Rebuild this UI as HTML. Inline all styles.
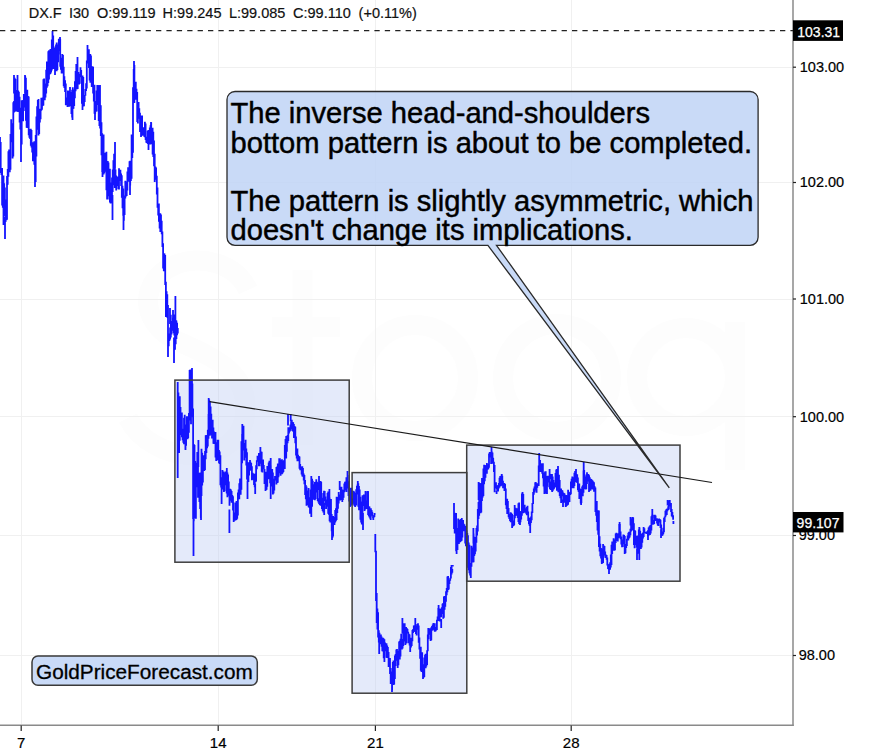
<!DOCTYPE html>
<html><head><meta charset="utf-8"><style>
html,body{margin:0;padding:0;background:#fff;}
body{width:881px;height:756px;overflow:hidden;}
svg{display:block;font-family:"Liberation Sans",sans-serif;}
</style></head><body>
<svg width="881" height="756" viewBox="0 0 881 756">
<rect width="881" height="756" fill="#fff"/>
<g fill="none" stroke="#fdfdfd" stroke-width="20">
<path d="M248 290C235 262 200 255 175 265C140 280 138 320 175 340C215 358 250 372 245 415C240 455 190 465 155 445C140 437 133 428 128 418"/>
<line x1="302.5" y1="270" x2="302.5" y2="445"/>
<line x1="272" y1="327" x2="340" y2="327"/>
<circle cx="415" cy="378" r="53"/>
<circle cx="557" cy="378" r="54"/>
<circle cx="686" cy="377" r="49"/>
<line x1="735" y1="322" x2="735" y2="470"/>
</g>
<g stroke="#f0f0f0" stroke-width="1"><line x1="0" y1="67.5" x2="793" y2="67.5"/><line x1="0" y1="182.5" x2="793" y2="182.5"/><line x1="0" y1="299.5" x2="793" y2="299.5"/><line x1="0" y1="416.5" x2="793" y2="416.5"/><line x1="0" y1="535.5" x2="793" y2="535.5"/><line x1="0" y1="655.5" x2="793" y2="655.5"/><line x1="21.5" y1="0" x2="21.5" y2="724"/><line x1="218.5" y1="0" x2="218.5" y2="724"/><line x1="375.5" y1="0" x2="375.5" y2="724"/><line x1="571.5" y1="0" x2="571.5" y2="724"/></g>

<g fill="rgba(190,206,242,0.42)" stroke="none">
<rect x="174.9" y="380.1" width="174.3" height="182.1"/>
<rect x="352.1" y="472.6" width="114.7" height="220.6"/>
<rect x="466.7" y="445.1" width="213.3" height="136.1"/>
</g>
<path d="M0.00 137.9V150.0M0.70 141.9V172.9M1.40 168.5V175.0M2.10 167.9V205.6M2.80 183.4V207.7M3.50 175.6V224.9M4.20 183.3V215.9M4.90 187.4V207.2M5.60 199.6V222.1M6.30 209.9V220.2M7.00 175.9V219.8M7.70 169.1V184.8M8.40 151.3V176.7M9.10 149.6V163.5M9.80 157.0V172.2M10.50 133.9V169.7M11.20 119.3V142.3M11.90 123.3V141.7M12.60 129.1V158.4M13.30 102.2V156.5M14.00 100.9V112.5M14.70 77.7V111.7M15.40 78.9V107.0M16.10 99.1V111.4M16.80 90.1V106.9M17.50 94.9V111.7M18.20 90.5V112.0M18.90 91.8V111.3M19.60 96.8V122.6M20.30 118.1V129.4M21.00 107.7V160.3M21.70 100.3V144.4M22.40 100.3V120.6M23.10 99.9V121.3M23.80 93.9V103.8M24.50 99.2V107.5M25.20 75.9V111.1M25.90 77.8V120.7M26.60 102.4V127.7M27.30 89.8V128.0M28.00 95.9V113.5M28.70 96.6V135.3M29.40 130.0V137.8M30.10 129.0V138.9M30.80 128.7V145.7M31.50 130.1V147.4M32.20 142.5V152.6M32.90 142.2V161.2M33.60 144.8V151.7M34.30 141.3V164.8M35.00 161.0V186.7M35.70 135.1V181.9M36.40 116.6V156.4M37.10 106.2V129.8M37.80 99.9V116.5M38.50 99.1V135.5M39.20 108.8V134.1M39.90 109.8V122.6M40.60 108.7V119.2M41.30 97.8V110.7M42.00 98.5V109.7M42.70 97.6V106.1M43.40 79.2V105.6M44.10 78.4V95.0M44.80 89.2V100.3M45.50 83.5V97.4M46.20 69.7V93.5M46.90 61.4V87.8M47.60 73.5V86.2M48.30 51.2V82.9M49.00 50.2V79.5M49.70 51.4V74.4M50.40 49.1V73.9M51.10 62.2V72.6M51.80 39.5V70.5M52.50 33.9V43.8M53.20 35.4V69.1M53.90 48.1V67.6M54.60 50.1V68.4M55.30 46.5V70.7M56.00 44.5V55.5M56.70 42.5V71.3M57.40 53.6V69.9M58.10 44.5V62.2M58.80 38.7V50.8M59.50 40.1V49.9M60.20 38.7V66.7M60.90 57.8V69.7M61.60 63.5V73.6M62.30 53.9V70.7M63.00 54.9V73.6M63.70 66.7V86.2M64.40 76.2V87.9M65.10 80.2V92.0M65.80 83.6V105.3M66.50 97.5V105.3M67.20 98.6V103.8M67.90 90.6V105.2M68.60 90.8V106.7M69.30 99.1V106.7M70.00 94.1V105.9M70.70 92.1V105.8M71.40 96.4V114.0M72.10 89.8V117.6M72.80 87.3V108.9M73.50 100.3V108.8M74.20 89.4V106.1M74.90 81.2V98.2M75.60 71.0V91.2M76.30 64.1V81.2M77.00 71.6V89.3M77.70 76.8V89.0M78.40 71.9V81.1M79.10 74.8V84.5M79.80 73.8V76.2M80.50 67.3V77.2M81.20 70.1V83.7M81.90 76.5V103.7M82.60 75.5V100.8M83.30 76.9V106.5M84.00 97.8V106.3M84.70 94.9V101.9M85.40 89.0V95.7M86.10 83.2V91.0M86.80 60.6V88.6M87.50 52.2V63.5M88.20 50.3V58.6M88.90 49.2V68.1M89.60 62.8V80.6M90.30 53.9V82.7M91.00 55.5V79.9M91.70 67.5V87.1M92.40 66.3V86.0M93.10 66.7V93.5M93.80 86.5V101.6M94.50 84.7V113.7M95.20 104.4V113.7M95.90 105.7V111.8M96.60 90.4V111.4M97.30 85.1V104.9M98.00 85.1V93.6M98.70 85.4V121.1M99.40 118.3V125.9M100.10 108.9V128.6M100.80 105.3V136.1M101.50 122.2V155.2M102.20 133.2V171.9M102.90 137.8V162.4M103.60 134.4V174.5M104.30 169.6V173.3M105.00 152.7V171.7M105.70 156.5V163.0M106.40 151.8V190.2M107.10 178.8V199.4M107.80 161.0V193.2M108.50 162.5V196.2M109.20 169.2V199.5M109.90 168.7V202.4M110.60 182.4V203.6M111.30 185.9V203.1M112.00 177.5V199.4M112.70 169.4V192.0M113.40 160.2V185.3M114.10 153.8V176.6M114.80 158.8V188.0M115.50 169.4V188.1M116.20 175.5V190.4M116.90 176.7V184.0M117.60 176.6V186.1M118.30 176.4V189.3M119.00 168.3V189.6M119.70 169.7V172.6M120.40 169.8V180.9M121.10 173.4V186.0M121.80 175.3V197.7M122.50 185.8V208.2M123.20 188.6V215.7M123.90 195.5V220.7M124.60 195.8V215.0M125.30 180.8V198.6M126.00 181.6V196.5M126.70 189.1V196.1M127.40 171.6V190.5M128.10 167.2V180.1M128.80 169.2V181.8M129.50 161.3V181.0M130.20 160.8V185.4M130.90 165.9V181.0M131.60 134.6V178.7M132.30 134.5V158.0M133.00 87.3V152.7M133.70 69.1V98.4M134.40 65.1V103.0M135.10 82.2V97.2M135.80 81.7V99.8M136.50 88.7V98.2M137.20 91.9V122.1M137.90 106.6V123.5M138.60 102.1V118.0M139.30 108.3V118.8M140.00 112.8V131.9M140.70 125.7V131.5M141.40 115.6V130.1M142.10 115.6V135.8M142.80 128.8V135.6M143.50 127.2V134.7M144.20 131.5V136.7M144.90 121.8V137.2M145.60 123.5V139.9M146.30 136.7V142.7M147.00 139.1V142.9M147.70 130.8V144.1M148.40 130.1V137.2M149.10 130.6V141.2M149.80 127.4V144.4M150.50 125.2V144.4M151.20 122.5V144.1M151.90 137.7V143.8M152.60 127.7V154.6M153.30 131.8V157.1M154.00 140.5V166.3M154.70 153.7V181.9M155.40 166.5V179.4M156.10 167.5V179.8M156.80 175.7V194.5M157.50 187.6V207.7M158.20 203.4V215.5M158.90 203.4V221.7M159.60 214.3V228.4M160.30 213.3V231.9M161.00 214.5V225.7M161.70 220.7V234.3M162.40 231.5V247.0M163.10 243.3V268.6M163.80 253.3V271.3M164.50 253.6V262.0M165.20 255.1V284.9M165.90 281.7V317.1M166.60 291.3V311.0M167.30 294.2V317.8M168.00 310.2V342.1M168.70 333.5V346.2M169.40 339.0V340.9M170.10 327.4V339.6M170.80 314.7V337.6M171.50 321.1V334.4M172.20 322.1V330.8M172.90 317.7V330.5M173.60 317.3V333.3M174.30 314.6V335.5M175.00 328.4V349.8M175.70 319.9V344.3M176.40 320.5V338.9M177.10 322.7V335.2M177.80 328.1V333.4M177.70 392.4V431.2M178.40 392.4V449.4M179.10 426.6V452.9M179.80 396.2V440.8M180.50 406.9V432.4M181.20 421.5V435.0M181.90 412.6V437.2M182.60 428.8V440.2M183.30 430.8V442.7M184.00 417.7V444.3M184.70 414.7V443.0M185.40 433.0V449.4M186.10 424.5V445.7M186.80 416.3V430.6M187.50 416.3V439.3M188.20 432.6V438.3M188.90 413.0V432.8M189.60 370.1V416.8M190.30 369.6V420.5M191.00 401.4V424.3M191.70 372.5V417.3M192.40 383.6V411.0M193.10 408.5V518.9M193.80 444.0V521.2M194.50 444.9V477.5M195.20 461.0V518.2M195.90 471.0V518.7M196.60 462.8V487.3M197.30 452.1V477.1M198.00 452.7V497.7M198.70 490.2V496.2M199.40 473.0V502.0M200.10 472.4V509.1M200.80 488.6V517.7M201.50 448.8V496.1M202.20 452.7V485.6M202.90 457.2V482.4M203.60 455.3V460.3M204.30 457.8V470.9M205.00 451.1V470.0M205.70 435.2V459.2M206.40 434.9V452.9M207.10 439.4V448.3M207.80 429.8V446.4M208.50 414.0V438.8M209.20 399.5V422.1M209.90 401.1V435.8M210.60 406.6V431.4M211.30 413.7V434.7M212.00 419.8V438.6M212.70 419.7V438.5M213.40 427.4V443.8M214.10 431.4V444.0M214.80 433.1V441.8M215.50 432.1V457.5M216.20 442.2V461.1M216.90 447.1V460.6M217.60 439.7V460.0M218.30 439.7V460.1M219.00 450.1V463.2M219.70 451.5V463.9M220.40 455.3V485.2M221.10 478.3V487.5M221.80 477.3V483.1M222.50 470.0V486.5M223.20 471.4V489.4M223.90 484.3V492.0M224.60 472.5V491.3M225.30 471.5V482.4M226.00 475.7V485.2M226.70 482.0V493.6M227.40 472.5V497.3M228.10 474.4V483.4M228.80 481.5V495.8M229.50 489.2V505.8M230.20 488.8V500.8M230.90 489.4V499.7M231.60 491.0V502.8M232.30 494.9V500.7M233.00 496.3V510.4M233.70 502.4V522.0M234.40 512.4V520.8M235.10 513.8V520.5M235.80 502.6V520.2M236.50 500.9V519.9M237.20 510.9V518.8M237.90 492.5V515.5M238.60 489.6V496.2M239.30 483.2V499.2M240.00 478.6V493.2M240.70 479.0V494.8M241.40 441.3V489.8M242.10 434.1V463.3M242.80 425.8V448.5M243.50 425.8V450.5M244.20 442.9V460.4M244.90 443.6V453.4M245.60 439.8V457.8M246.30 448.4V465.4M247.00 452.3V479.5M247.70 466.0V481.0M248.40 462.2V481.9M249.10 465.4V475.6M249.80 461.9V468.7M250.50 461.8V465.2M251.20 463.1V470.8M251.90 466.3V480.2M252.60 472.7V478.4M253.30 473.5V479.8M254.00 474.1V484.9M254.70 479.6V487.2M255.40 473.4V482.3M256.10 465.3V481.6M256.80 460.3V469.3M257.50 455.7V461.8M258.20 457.8V461.0M258.90 453.1V466.2M259.60 460.0V466.3M260.30 450.0V463.7M261.00 451.5V459.1M261.70 451.8V471.7M262.40 459.6V472.4M263.10 459.6V466.9M263.80 464.9V469.2M264.50 469.0V483.9M265.20 472.1V481.6M265.90 471.7V489.9M266.60 483.9V489.7M267.30 466.1V486.8M268.00 469.1V473.1M268.70 462.4V479.2M269.40 460.7V471.5M270.10 464.8V483.3M270.80 465.5V485.8M271.50 469.5V486.4M272.20 468.9V483.9M272.90 472.4V494.5M273.60 489.9V493.6M274.30 478.7V490.4M275.00 475.9V480.4M275.70 477.7V480.3M276.40 467.0V484.6M277.10 466.6V483.1M277.80 463.4V482.7M278.50 468.0V477.3M279.20 458.3V473.3M279.90 458.2V470.1M280.60 462.9V475.8M281.30 460.0V469.5M282.00 459.3V474.3M282.70 468.6V473.3M283.40 460.9V471.9M284.10 459.9V466.1M284.80 444.9V469.1M285.50 439.1V457.4M286.20 436.1V458.5M286.90 438.6V451.8M287.60 434.9V443.2M288.30 427.3V441.0M289.00 427.3V433.5M289.70 428.0V431.7M290.40 424.4V430.8M291.10 421.7V429.2M291.80 419.7V424.6M292.50 421.9V430.9M293.20 422.3V431.7M293.90 424.0V437.9M294.60 426.1V437.5M295.30 426.8V443.3M296.00 436.6V455.5M296.70 448.7V458.5M297.40 448.4V461.2M298.10 454.8V460.9M298.80 456.1V461.3M299.50 456.4V468.7M300.20 463.9V470.3M300.90 466.8V469.9M301.60 466.6V474.5M302.30 466.3V476.5M303.00 468.0V476.7M303.70 473.5V480.6M304.40 475.1V484.2M305.10 480.0V495.1M305.80 485.0V499.2M306.50 486.5V505.7M307.20 501.6V505.0M307.90 490.6V503.6M308.60 487.9V507.3M309.30 497.2V507.7M310.00 499.2V513.7M310.70 489.4V510.9M311.40 492.9V502.3M312.10 478.7V506.8M312.80 480.7V497.4M313.50 487.6V499.7M314.20 484.2V499.0M314.90 482.1V500.2M315.60 481.7V498.9M316.30 479.2V486.6M317.00 481.8V492.4M317.70 482.6V501.1M318.40 498.3V502.5M319.10 500.3V503.9M319.80 489.2V505.2M320.50 480.9V495.5M321.20 481.7V506.0M321.90 497.8V509.1M322.60 498.0V511.0M323.30 492.9V512.6M324.00 490.8V496.6M324.70 491.1V501.1M325.40 496.5V505.0M326.10 502.5V508.9M326.80 499.4V506.7M327.50 493.0V501.3M328.20 491.6V513.7M328.90 496.9V514.7M329.60 497.6V521.2M330.30 499.0V522.5M331.00 499.0V519.0M331.70 514.1V531.3M332.40 526.3V538.1M333.10 515.9V536.5M333.80 516.9V523.7M334.50 518.4V525.1M335.20 510.0V522.5M335.90 508.3V521.3M336.60 496.7V520.1M337.30 497.1V512.9M338.00 502.1V508.8M338.70 492.0V503.6M339.40 494.4V500.5M340.10 494.4V500.4M340.80 488.3V500.0M341.50 486.8V495.8M342.20 489.6V496.8M342.90 492.9V499.9M343.60 489.7V497.8M344.30 483.4V492.3M345.00 481.7V485.1M345.70 481.6V490.4M346.40 477.2V492.0M347.10 478.8V484.4M347.80 474.9V488.4M348.50 481.2V495.9M349.20 489.6V501.6M349.90 499.0V505.2M350.60 487.7V506.0M351.30 487.8V505.2M352.00 499.5V504.4M352.70 498.6V503.8M353.40 490.8V503.2M354.10 491.5V505.4M354.80 493.5V506.2M355.50 492.8V505.1M356.20 489.3V505.5M356.90 485.8V494.6M357.60 484.3V490.9M358.30 483.2V506.8M359.00 485.9V510.2M359.70 489.6V507.1M360.40 496.8V519.7M361.10 509.4V522.4M361.80 501.5V524.4M362.50 495.3V513.0M363.20 495.9V506.0M363.90 494.5V504.4M364.60 497.7V511.0M365.30 499.9V509.4M366.00 502.8V508.6M366.70 500.4V509.1M367.40 491.3V508.8M368.10 491.8V514.9M368.80 506.3V516.2M369.50 506.4V517.5M370.20 509.2V518.8M370.90 508.3V516.8M371.60 510.1V515.7M372.30 511.8V515.6M373.00 515.3V518.3M373.70 516.6V517.8M374.40 515.1V517.0M375.30 541.4V552.3M376.00 550.8V600.9M376.70 592.9V623.1M377.40 608.6V629.6M378.10 612.2V637.4M378.80 630.2V642.4M379.50 632.7V639.7M380.20 635.3V644.0M380.90 634.6V644.3M381.60 636.6V646.7M382.30 637.8V651.2M383.00 637.7V651.5M383.70 638.5V658.2M384.40 639.3V657.4M385.10 642.6V651.2M385.80 643.3V648.6M386.50 643.3V657.7M387.20 645.5V658.1M387.90 647.1V654.9M388.60 652.0V666.9M389.30 661.0V667.0M390.00 658.1V673.9M390.70 668.1V683.9M391.40 673.9V683.8M392.10 671.4V689.9M392.80 662.1V684.0M393.50 660.5V685.0M394.20 667.8V684.4M394.90 655.4V678.9M395.60 654.0V666.0M396.30 649.5V660.8M397.00 649.0V659.1M397.70 650.8V668.1M398.40 652.4V665.2M399.10 641.6V657.2M399.80 640.7V659.5M400.50 638.8V656.6M401.20 633.7V644.2M401.90 640.3V649.5M402.60 638.9V648.5M403.30 624.6V646.1M404.00 623.2V632.2M404.70 623.2V641.5M405.40 634.7V644.9M406.10 627.1V643.6M406.80 628.1V630.0M407.50 628.9V633.6M408.20 631.7V643.2M408.90 633.8V641.4M409.60 634.4V645.6M410.30 639.2V644.1M411.00 637.7V647.5M411.70 639.4V646.1M412.40 630.0V641.2M413.10 629.0V633.0M413.80 625.5V631.9M414.50 625.3V631.7M415.20 628.3V629.5M415.90 625.6V634.0M416.60 625.6V635.6M417.30 624.0V629.7M418.00 623.3V626.2M418.70 625.4V642.7M419.40 637.4V649.4M420.10 647.9V658.7M420.80 646.7V670.8M421.50 652.3V672.1M422.20 652.3V669.6M422.90 664.2V673.1M423.60 668.4V677.7M424.30 657.5V677.0M425.00 654.8V664.7M425.70 653.7V668.3M426.40 659.4V666.4M427.10 650.3V665.1M427.80 634.5V651.3M428.50 633.2V639.2M429.20 628.3V634.7M429.90 628.3V633.4M430.60 628.8V640.9M431.30 627.3V640.3M432.00 626.0V630.8M432.70 624.6V629.8M433.40 625.0V628.6M434.10 623.4V630.4M434.80 623.3V631.8M435.50 627.6V631.5M436.20 627.1V630.5M436.90 619.8V629.9M437.60 616.4V621.0M438.30 607.9V621.1M439.00 609.9V619.7M439.70 608.6V621.5M440.40 608.8V614.4M441.10 610.1V617.2M441.80 607.3V613.9M442.50 603.8V609.9M443.20 603.0V618.7M443.90 596.6V617.7M444.60 596.1V609.8M445.30 601.1V606.7M446.00 591.2V601.8M446.70 587.9V595.2M447.40 576.4V592.3M448.10 576.0V590.0M448.80 579.4V589.4M449.50 579.7V584.1M450.20 577.7V580.8M450.90 567.0V578.5M451.60 566.9V574.4M452.30 569.1V572.7M454.00 521.5V529.1M454.70 512.7V533.4M455.40 513.0V519.8M456.10 513.0V551.2M456.80 532.9V543.9M457.50 528.0V549.9M458.20 518.4V540.7M458.90 519.7V544.0M459.60 539.6V542.4M460.30 519.5V541.9M461.00 518.9V541.3M461.70 534.5V540.8M462.40 519.9V537.5M463.10 519.9V530.7M463.80 523.7V531.3M464.50 524.4V526.7M465.20 525.9V543.5M465.90 528.8V546.3M466.60 530.4V545.2M467.30 533.0V545.4M468.00 535.3V567.7M468.70 542.6V570.3M469.40 544.7V573.3M470.10 564.0V575.5M470.80 562.9V569.3M471.50 545.7V566.8M472.20 547.6V559.5M472.90 553.4V562.4M473.60 533.6V562.2M474.30 536.7V555.9M475.00 546.3V554.2M475.70 537.1V551.4M476.40 528.0V542.8M477.10 525.5V535.4M477.80 508.9V531.4M478.50 502.1V519.0M479.20 482.8V515.8M479.90 483.2V484.0M480.60 483.3V513.2M481.30 482.9V512.5M482.00 478.1V500.9M482.70 493.8V497.5M483.40 468.4V495.9M484.10 464.8V484.3M484.80 471.1V481.2M485.50 465.2V477.7M486.20 465.0V473.8M486.90 463.0V473.8M487.60 464.2V469.8M488.30 464.5V469.3M489.00 453.6V467.8M489.70 452.1V456.5M490.40 453.4V457.4M491.10 452.3V464.0M491.80 451.4V463.3M492.50 452.4V461.3M493.20 457.7V464.0M493.90 461.7V471.9M494.60 465.1V492.2M495.30 485.6V487.3M496.00 482.3V488.3M496.70 485.4V489.6M497.40 485.7V490.6M498.10 485.1V491.5M498.80 483.0V488.5M499.50 477.7V487.5M500.20 475.9V485.6M500.90 478.8V486.3M501.60 474.5V484.6M502.30 475.7V485.6M503.00 480.8V488.3M503.70 484.4V487.0M504.40 483.0V490.9M505.10 484.1V490.4M505.80 488.4V505.2M506.50 501.5V509.1M507.20 498.8V514.0M507.90 500.9V509.9M508.60 508.1V517.3M509.30 513.7V518.9M510.00 514.5V520.9M510.70 512.2V522.3M511.40 513.1V518.2M512.10 514.1V525.2M512.80 520.4V526.4M513.50 522.6V526.1M514.20 514.9V525.3M514.90 511.2V518.3M515.60 507.7V515.9M516.30 510.1V515.4M517.00 508.2V515.2M517.70 511.2V518.1M518.40 503.2V522.0M519.10 502.4V524.0M519.80 514.0V524.6M520.50 517.0V522.3M521.20 511.4V519.4M521.90 493.5V515.7M522.60 492.7V495.2M523.30 493.9V513.3M524.00 505.1V512.8M524.70 504.8V511.2M525.40 508.2V512.5M526.10 509.1V513.7M526.80 507.1V515.3M527.50 505.8V514.0M528.20 511.5V521.1M528.90 517.4V524.3M529.60 522.0V526.1M530.30 517.9V525.3M531.00 516.4V522.9M531.70 511.5V520.2M532.40 503.1V513.0M533.10 492.0V503.9M533.80 488.5V494.8M534.50 486.6V492.5M535.20 483.1V490.5M535.90 482.3V490.6M536.60 484.9V492.7M537.30 483.3V487.7M538.00 483.3V485.6M538.70 465.4V485.9M539.40 461.8V470.7M540.10 460.1V472.0M540.80 462.9V469.9M541.50 464.1V472.0M542.20 464.0V473.7M542.90 463.2V478.2M543.60 472.8V486.6M544.30 478.6V488.4M545.00 471.5V487.4M545.70 471.3V493.7M546.40 481.9V493.7M547.10 476.0V486.3M547.80 475.7V481.3M548.50 478.3V482.4M549.20 476.3V487.3M549.90 481.5V489.0M550.60 483.8V489.9M551.30 473.9V486.2M552.00 474.1V491.3M552.70 476.4V491.1M553.40 479.9V489.8M554.10 486.1V488.8M554.80 482.4V487.5M555.50 473.0V487.2M556.20 469.6V479.7M556.90 469.0V490.8M557.60 479.2V490.1M558.30 483.7V492.3M559.00 474.7V487.7M559.70 480.1V496.0M560.40 488.8V498.2M561.10 488.5V502.9M561.80 490.1V502.1M562.50 490.4V493.6M563.20 492.4V496.2M563.90 493.0V502.4M564.60 493.6V502.8M565.30 495.0V500.6M566.00 494.9V506.5M566.70 495.8V506.1M567.40 495.3V505.3M568.10 489.7V504.8M568.80 491.8V502.2M569.50 494.3V501.9M570.20 492.2V495.1M570.90 481.4V494.2M571.60 478.7V482.9M572.30 476.4V488.2M573.00 477.3V487.4M573.70 481.0V488.2M574.40 472.7V486.1M575.10 471.0V481.9M575.80 475.3V482.3M576.50 479.7V482.3M577.20 474.2V483.1M577.90 477.6V490.3M578.60 486.1V491.9M579.30 483.6V498.9M580.00 488.5V497.0M580.70 490.7V503.4M581.40 488.9V502.9M582.10 486.5V495.8M582.80 485.2V496.2M583.50 470.6V492.7M584.20 469.9V488.4M584.90 476.4V489.0M585.60 481.1V489.5M586.30 474.5V489.2M587.00 472.3V484.1M587.70 474.4V481.4M588.40 474.1V481.2M589.10 475.2V488.7M589.80 477.3V487.4M590.50 478.7V490.8M591.20 479.1V489.3M591.90 479.8V484.0M592.60 480.6V489.5M593.30 481.5V488.2M594.00 482.3V491.8M594.70 486.3V491.6M595.40 487.6V511.9M596.10 503.3V515.8M596.80 500.9V522.1M597.50 519.1V530.4M598.20 510.2V534.7M598.90 510.5V547.1M599.60 536.2V551.6M600.30 543.7V556.2M601.00 548.0V558.5M601.70 551.7V562.5M602.40 556.6V563.2M603.10 543.9V562.9M603.80 545.6V551.9M604.50 546.1V555.5M605.20 551.5V557.7M605.90 554.5V558.1M606.60 554.9V559.8M607.30 557.5V565.4M608.00 564.2V569.0M608.70 566.1V569.5M609.40 563.7V568.2M610.10 562.3V569.7M610.80 554.4V567.5M611.50 544.8V565.0M612.20 541.4V554.0M612.90 547.7V550.8M613.60 538.3V548.7M614.30 539.4V550.7M615.00 541.3V550.2M615.70 533.6V542.9M616.40 532.7V540.9M617.10 538.3V540.1M617.80 533.6V541.6M618.50 533.2V538.2M619.20 523.9V537.7M619.90 524.1V536.4M620.60 531.5V539.3M621.30 536.6V544.4M622.00 540.4V547.2M622.70 539.4V546.9M623.40 534.4V544.3M624.10 534.9V540.4M624.80 536.0V553.3M625.50 544.1V553.3M626.20 543.9V548.0M626.90 538.8V545.9M627.60 535.5V540.4M628.30 532.8V540.4M629.00 531.7V538.4M629.70 534.1V537.5M630.40 528.7V535.3M631.10 518.4V531.5M631.80 519.3V530.8M632.50 517.3V530.0M633.20 517.4V529.1M633.90 523.3V544.9M634.60 530.1V548.2M635.30 530.7V545.1M636.00 540.4V544.7M636.70 536.0V547.7M637.40 535.6V549.6M638.10 545.1V550.9M638.80 529.5V553.8M639.50 527.7V535.8M640.20 530.7V541.0M640.90 534.1V549.1M641.60 537.5V547.4M642.30 533.2V542.8M643.00 532.4V538.5M643.70 529.0V537.1M644.40 528.2V533.2M645.10 532.2V533.3M645.80 531.7V533.6M646.50 532.0V533.9M647.20 531.3V534.0M647.90 530.3V536.4M648.60 527.5V535.7M649.30 526.6V528.4M650.00 525.6V534.9M650.70 525.1V533.6M651.40 516.2V530.6M652.10 514.8V523.5M652.80 520.7V524.7M653.50 519.7V524.4M654.20 514.8V524.0M654.90 514.8V517.3M655.60 515.6V520.9M656.30 518.6V520.3M657.00 518.3V523.6M657.70 521.5V525.4M658.40 519.0V526.1M659.10 518.6V521.3M659.80 518.9V522.4M660.50 519.7V528.0M661.20 524.4V536.2M661.90 532.1V536.1M662.60 531.6V535.4M663.30 527.8V534.2M664.00 517.7V532.2M664.70 516.4V522.1M665.40 510.8V517.2M666.10 509.6V515.5M666.80 508.8V514.9M667.50 508.5V511.2M668.20 506.2V509.9M668.90 500.3V509.5M669.60 500.8V506.5M670.30 503.8V506.3M671.00 503.0V511.9M671.70 509.1V516.3M672.40 511.9V517.2M673.10 515.3V519.7M0.00 137.0V149.5M5.00 217.0V239.0M14.00 75.0V93.5M17.50 75.0V93.5M21.00 131.0V162.0M25.00 75.0V93.5M35.00 162.0V187.0M52.50 31.0V50.5M55.00 61.0V75.0M60.00 37.0V54.5M67.50 98.5V107.0M70.00 87.0V97.0M72.50 105.0V120.0M77.50 57.0V72.0M82.50 92.5V110.0M87.50 45.0V60.0M95.00 101.0V120.0M100.00 85.0V111.0M102.50 146.0V177.0M112.50 195.0V220.0M115.00 142.0V168.5M123.50 205.0V230.0M130.00 176.0V195.0M134.00 61.0V80.5M141.00 126.0V137.0M148.50 140.0V150.0M151.00 122.0V132.0M168.00 305.0V331.0M168.00 331.0V357.0M170.00 308.0V324.0M173.00 310.0V324.0M174.00 337.5V363.0M175.40 296.0V320.5M177.70 382.0V430.0M177.70 430.0V478.0M185.50 433.0V450.0M192.00 368.0V399.0M193.50 498.0V556.0M198.40 440.0V467.0M201.00 483.5V520.0M208.70 398.0V417.5M221.60 486.0V504.0M226.80 468.0V481.0M229.40 509.5V533.0M242.30 424.0V450.0M247.50 481.0V499.0M250.00 460.0V470.5M255.20 483.5V494.0M260.40 447.0V456.5M265.50 482.0V491.0M270.70 458.0V478.5M270.70 478.5V499.0M288.00 414.0V425.5M290.70 414.0V421.5M311.30 476.0V496.5M311.30 496.5V517.0M319.00 476.0V490.0M324.20 503.0V515.0M329.40 489.0V504.5M332.00 528.5V540.0M339.70 481.0V490.0M342.30 495.5V502.0M347.50 471.0V481.0M350.00 496.5V507.0M355.20 500.5V507.0M357.80 481.0V492.5M363.00 513.0V530.0M365.50 491.0V501.5M368.00 491.0V503.0M370.70 513.5V520.0M373.30 517.5V520.0M374.60 513.0V515.0M375.30 534.0V547.0M379.20 642.5V654.0M384.40 650.5V662.0M392.00 678.0V692.0M402.40 618.0V633.5M410.20 645.5V652.0M415.30 618.0V625.5M423.00 671.5V679.0M428.30 628.0V636.0M433.40 623.0V629.5M438.60 605.0V614.0M441.20 619.0V628.0M451.50 565.0V571.0M452.80 565.0V566.5M454.00 503.0V522.0M456.60 534.5V554.0M461.80 518.0V529.5M470.80 564.5V578.0M473.40 528.0V543.5M478.60 482.0V500.0M491.50 447.0V455.5M496.60 490.5V494.0M501.80 474.0V479.0M512.10 521.5V528.0M514.70 505.0V515.0M520.00 511.0V525.0M522.50 492.0V502.5M530.20 524.0V533.0M535.40 482.0V488.0M539.20 453.0V467.5M544.40 480.0V494.0M547.00 485.0V494.0M549.60 469.0V479.0M552.20 484.0V492.0M558.00 466.0V480.0M563.00 499.5V507.0M565.70 500.5V507.0M576.00 469.0V478.0M581.10 497.0V505.0M583.70 462.0V477.0M589.00 484.0V492.0M601.80 548.5V564.0M609.00 569.0V574.0M619.60 522.0V529.5M624.70 544.5V554.0M630.50 517.0V525.5M632.70 517.0V524.0M637.00 548.5V560.0M639.30 527.0V543.5M639.30 543.5V560.0M643.60 527.0V531.0M648.00 534.0V540.0M652.30 509.0V518.5M661.00 529.5V538.0M667.60 500.0V505.5M669.80 500.0V504.0M673.40 521.0V524.0" stroke="#1414ff" stroke-width="1.8" stroke-linecap="butt" fill="none"/>
<g fill="none" stroke="#3e3e3e" stroke-width="1.5">
<rect x="174.9" y="380.1" width="174.3" height="182.1"/>
<rect x="352.1" y="472.6" width="114.7" height="220.6"/>
<rect x="466.7" y="445.1" width="213.3" height="136.1"/>
</g>

<line x1="209.5" y1="401.6" x2="712" y2="482.5" stroke="#1a1a1a" stroke-width="1.2"/>
<path d="M235 91.5H750.1A8 8 0 0 1 758.1 99.5V237.3A8 8 0 0 1 750.1 245.3H496.5L669.3 487.8L487.9 245.3H235A8 8 0 0 1 227 237.3V99.5A8 8 0 0 1 235 91.5Z" fill="rgba(191,211,246,0.85)" stroke="#2a2a2a" stroke-width="1.3" stroke-linejoin="miter" stroke-miterlimit="40"/>
<g font-size="29.15" fill="#000" stroke="#000" stroke-width="0.45">
<text x="230.5" y="123.2">The inverse head-and-shoulders</text>
<text x="230.5" y="152.5">bottom pattern is about to be completed.</text>
<text x="230.5" y="211.1">The pattern is slightly asymmetric, which</text>
<text x="230.5" y="240">doesn't change its implications.</text>
</g>
<rect x="32" y="656" width="225.3" height="29.2" rx="6" ry="6" fill="#c9daf7" stroke="#3a3a3a" stroke-width="1.5"/>
<text x="36" y="678.5" font-size="20.75" fill="#000" stroke="#000" stroke-width="0.3">GoldPriceForecast.com</text>
<g stroke="#8a8a8a" stroke-width="1.5" fill="none">
<line x1="793" y1="0" x2="793" y2="725.9"/>
<line x1="0" y1="725.2" x2="793.7" y2="725.2"/>
</g>
<g stroke="#222" stroke-width="1.2"><line x1="793" y1="67.2" x2="796" y2="67.2"/><line x1="793" y1="182.5" x2="796" y2="182.5"/><line x1="793" y1="299.0" x2="796" y2="299.0"/><line x1="793" y1="416.7" x2="796" y2="416.7"/><line x1="793" y1="535.5" x2="796" y2="535.5"/><line x1="793" y1="655.5" x2="796" y2="655.5"/><line x1="21.2" y1="725.5" x2="21.2" y2="731"/><line x1="218.2" y1="725.5" x2="218.2" y2="731"/><line x1="375.4" y1="725.5" x2="375.4" y2="731"/><line x1="571.2" y1="725.5" x2="571.2" y2="731"/></g>
<g font-size="14.5" fill="#000" stroke="#000" stroke-width="0.2"><text x="799.8" y="72.0">103.00</text><text x="799.8" y="187.3">102.00</text><text x="799.8" y="303.8">101.00</text><text x="799.8" y="421.5">100.00</text><text x="798.7" y="660.3">98.00</text></g><g font-size="15" fill="#000" stroke="#000" stroke-width="0.2"><text x="21.2" y="747.7" text-anchor="middle">7</text><text x="218.2" y="747.7" text-anchor="middle">14</text><text x="375.4" y="747.7" text-anchor="middle">21</text><text x="571.2" y="747.7" text-anchor="middle">28</text></g>
<line x1="0" y1="30.65" x2="793" y2="30.65" stroke="#222" stroke-width="1.4" stroke-dasharray="5.3 5.1"/>
<rect x="793" y="20.3" width="50" height="20.6" fill="#000"/>
<text x="797.3" y="37.2" font-size="14" fill="#fff" stroke="#fff" stroke-width="0.25">103.31</text>
<g font-size="14.5" fill="#000" stroke="#000" stroke-width="0.2"><text x="798.7" y="540.3">99.00</text></g>
<rect x="793" y="512" width="50.5" height="20.4" fill="#000"/>
<text x="796.6" y="528" font-size="14" fill="#fff" stroke="#fff" stroke-width="0.25">99.107</text>
<g font-size="14.5" fill="#111" stroke="#111" stroke-width="0.2">
<text x="28.7" y="17.6">DX.F</text>
<text x="69" y="17.6">I30</text>
<text x="97" y="17.6">O:99.119</text>
<text x="162.6" y="17.6">H:99.245</text>
<text x="228.9" y="17.6">L:99.085</text>
<text x="293" y="17.6">C:99.110</text>
<text x="358.6" y="17.6">(+0.11%)</text>
</g>
</svg>
</body></html>
